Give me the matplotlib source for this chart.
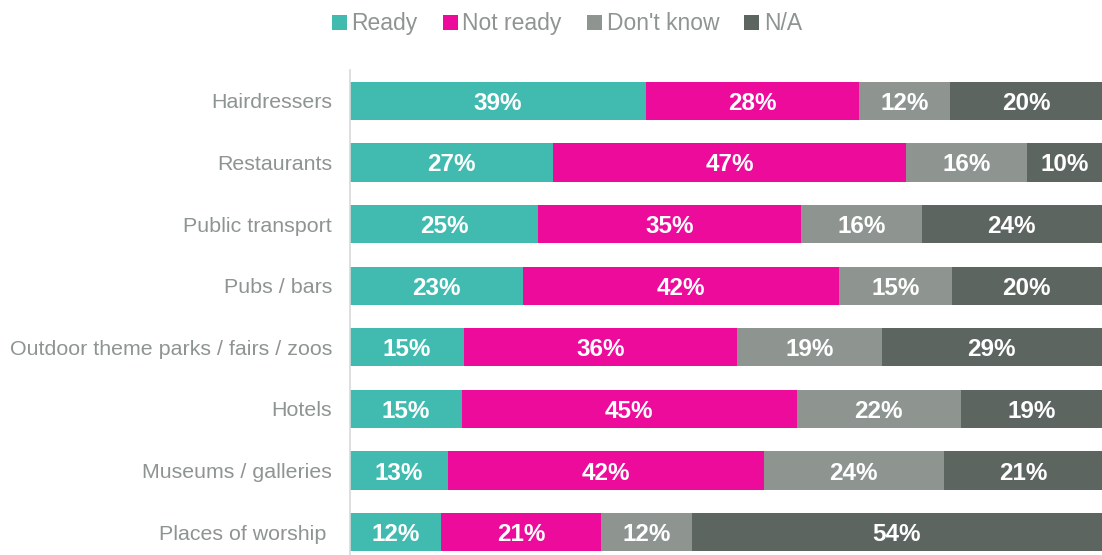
import matplotlib
matplotlib.use("Agg")
import matplotlib.pyplot as plt
import numpy as np

plt.rcParams['font.family'] = ['Liberation Sans', 'DejaVu Sans']

categories = ["Hairdressers", "Restaurants", "Public transport", "Pubs / bars",
              "Outdoor theme parks / fairs / zoos", "Hotels", "Museums / galleries",
              "Places of worship "]
series = ["Ready", "Not ready", "Don't know", "N/A"]
ready = [39, 27, 25, 23, 15, 15, 13, 12]
not_ready = [28, 47, 35, 42, 36, 45, 42, 21]
dont_know = [12, 16, 16, 15, 19, 22, 24, 12]
na = [20, 10, 24, 20, 29, 19, 21, 54]

colors = ["#41BBB0", "#EC0B9B", "#8E9590", "#5D6560"]
text_grey = "#8E9590"


def main():
    data = np.array([ready, not_ready, dont_know, na], dtype=float)
    shares = data / data.sum(axis=0) * 100

    fig = plt.figure(figsize=(11.02, 5.55), dpi=100)
    ax = fig.add_axes([350 / 1102, 0, 1 - 350 / 1102, 1 - 70 / 555])

    y = np.arange(len(categories))
    left = np.zeros(len(categories))
    for i, name in enumerate(series):
        bars = ax.barh(y, shares[i], left=left, height=0.62, color=colors[i],
                       label=name, edgecolor="none")
        for j, b in enumerate(bars):
            ax.text(left[j] + shares[i][j] / 2, y[j], "%d%%" % data[i][j],
                    ha="center", va="center_baseline", color="white",
                    fontsize=17.5, fontweight="bold")
        left += shares[i]

    ax.set_xlim(0, 100)
    ax.set_ylim(7.37, -0.5)
    ax.set_yticks(y)
    ax.set_yticklabels(categories, fontsize=15.4, color=text_grey)
    ax.tick_params(axis="y", length=0, pad=13)
    ax.set_xticks([])
    for s in ["top", "right", "bottom"]:
        ax.spines[s].set_visible(False)
    ax.spines["left"].set_color("#D9D9D9")
    ax.spines["left"].set_linewidth(1.2)

    leg = fig.legend(loc="upper center", bbox_to_anchor=(0.5145, 1.015), ncol=4,
                     frameon=False, fontsize=16.5, handlelength=0.65,
                     handleheight=0.65, handletextpad=0.2, columnspacing=1.1)
    for t in leg.get_texts():
        t.set_color(text_grey)

    fig.savefig("out.png", dpi=100)


if __name__ == "__main__":
    main()
